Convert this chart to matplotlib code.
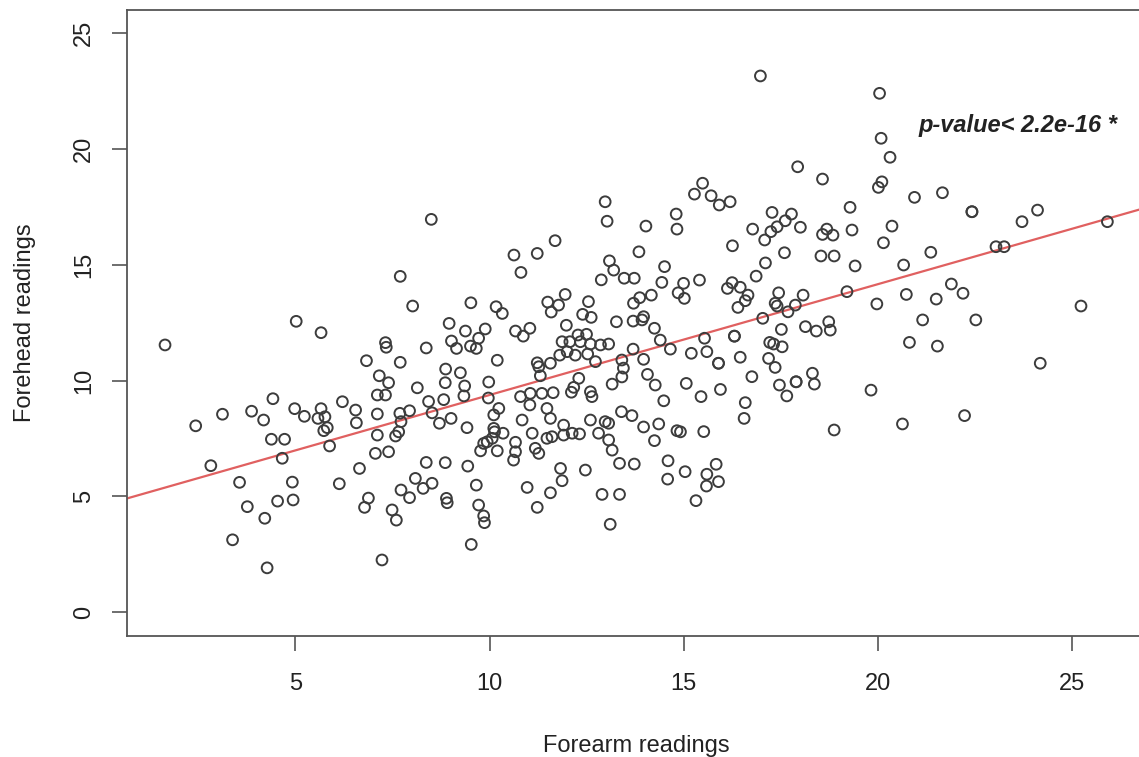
import matplotlib
matplotlib.use("Agg")
import matplotlib.pyplot as plt
import numpy as np

plt.rcParams['font.family'] = ['Liberation Sans', 'DejaVu Sans']

# readings (forearm, forehead)
forearm = [
    1.64, 5.02, 5.66, 6.83, 4.42, 3.12, 2.43, 3.87, 4.18, 4.98, 5.23, 5.66, 5.58, 5.76,
    5.82, 5.73, 6.21, 6.55, 6.57, 4.38, 4.72, 5.88, 4.66, 2.82, 6.65, 3.56, 4.92, 6.13,
    3.76, 4.54, 4.94, 6.88, 6.78, 4.21, 3.38, 4.27,
    8.50, 7.70, 8.02, 9.52, 10.17, 10.33, 10.63, 11.23, 11.69, 10.81, 12.98, 13.03, 13.09,
    13.20, 12.88, 8.96, 9.38, 9.89, 9.72, 9.02, 9.15, 9.51, 9.66, 7.32, 7.34, 8.37, 7.70,
    10.20, 7.16, 7.40, 8.14, 8.87, 9.25, 8.86, 9.36, 9.98, 7.11, 7.32, 8.43, 8.82, 9.34,
    9.97, 10.67, 11.04, 10.87, 11.50, 11.78, 11.95, 11.59, 12.55, 12.40, 12.62, 11.98,
    13.27, 11.87, 12.07, 12.28, 12.50, 12.34, 12.60, 12.86, 13.07, 12.00, 11.81, 12.21,
    12.53, 12.73, 11.23, 11.27, 11.57, 11.31, 12.30, 12.17, 12.11, 13.16, 11.05, 11.35,
    11.64, 12.60, 12.64,
    7.69, 7.94, 7.72, 8.52, 8.71, 9.01, 9.42, 7.58, 7.66, 7.40, 8.37, 8.86, 9.44, 8.09,
    8.29, 8.52, 7.72, 7.94, 8.89, 8.91, 7.49, 7.60, 9.66, 9.72, 9.85, 9.87, 9.53, 7.23,
    7.11, 7.11, 7.06, 10.24, 10.11, 10.11, 10.13, 10.35, 9.94, 10.07, 9.85, 9.77, 10.20,
    10.67, 10.67, 10.62, 10.80, 11.04, 10.84, 11.10, 11.48, 11.57, 11.18, 11.27, 11.48,
    11.61, 11.91, 11.91, 12.13, 12.32, 12.60, 12.81, 12.98, 13.07, 13.07, 13.16, 13.40,
    13.35, 11.83, 11.87, 10.97, 11.57, 11.23, 12.47, 12.90, 13.35, 13.11,
    16.98, 17.94, 18.58, 19.29, 19.34, 15.49, 15.28, 15.71, 15.92, 16.20, 14.81, 14.83,
    14.03, 13.85, 16.26, 17.28, 17.78, 17.62, 17.41, 17.25, 17.09, 16.78, 18.01, 18.69,
    18.58, 18.85, 17.60, 18.54, 18.88, 17.11,
    19.42, 13.47, 13.73, 14.51, 14.44, 15.00, 14.86, 15.02, 15.41, 14.17, 13.87, 13.71,
    13.97, 13.93, 13.70, 14.25, 14.40, 14.66, 13.70, 13.97, 13.41, 13.45, 13.41, 14.07,
    14.27, 15.07, 14.49, 15.45, 15.95, 15.20, 15.60, 15.54, 15.90, 15.90, 16.31, 16.31,
    16.46, 16.76, 16.59, 16.56, 13.67, 14.36, 13.97, 15.52, 16.25, 16.13, 16.46, 16.66,
    16.59, 16.40, 16.87, 17.45, 17.36, 17.41, 17.69, 17.88, 18.08, 17.04, 17.52, 17.22,
    17.32, 17.54, 17.19, 17.36, 17.47, 17.66, 17.90, 17.90, 18.32, 18.37, 18.14, 18.42,
    18.74, 18.78, 19.21,
    14.83, 14.92, 18.88, 14.25, 13.73, 14.60, 14.59, 15.04, 15.84, 15.60, 15.90, 15.59,
    15.32,
    20.05, 20.09, 20.32, 20.11, 20.02, 20.95, 21.67, 20.37, 20.15, 21.37, 22.43, 22.43,
    23.72, 24.12, 23.05, 23.26, 25.92,
    20.67, 19.98, 20.74, 21.51, 21.90, 22.20, 21.16, 22.53, 20.82, 21.54, 25.24, 24.19,
    19.83, 20.64, 22.24,
]
forehead = [
    11.54, 12.56, 12.07, 10.86, 9.22, 8.55, 8.05, 8.68, 8.30, 8.79, 8.46, 8.79, 8.37, 8.44,
    7.97, 7.84, 9.09, 8.73, 8.18, 7.47, 7.47, 7.18, 6.65, 6.33, 6.21, 5.61, 5.62, 5.55,
    4.56, 4.80, 4.85, 4.93, 4.53, 4.06, 3.13, 1.92,
    16.96, 14.50, 13.22, 13.36, 13.19, 12.90, 15.42, 15.49, 16.04, 14.67, 17.72, 16.88, 15.17,
    14.77, 14.35, 12.47, 12.14, 12.23, 11.83, 11.71, 11.39, 11.49, 11.39, 11.64, 11.44, 11.41, 10.79,
    10.88, 10.21, 9.91, 9.69, 10.50, 10.34, 9.91, 9.77, 9.94, 9.38, 9.38, 9.10, 9.18, 9.34,
    9.25, 12.14, 12.26, 11.92, 13.39, 13.26, 13.72, 12.96, 13.41, 12.86, 12.73, 12.39,
    12.54, 11.68, 11.68, 11.97, 12.00, 11.68, 11.58, 11.54, 11.58, 11.25, 11.10, 11.10,
    11.15, 10.82, 10.77, 10.60, 10.75, 10.21, 10.10, 9.71, 9.50, 9.85, 9.45, 9.45,
    9.48, 9.52, 9.31,
    8.59, 8.70, 8.23, 8.61, 8.16, 8.37, 7.97, 7.61, 7.79, 6.93, 6.47, 6.46, 6.31, 5.78,
    5.35, 5.57, 5.28, 4.95, 4.92, 4.73, 4.42, 3.98, 5.49, 4.63, 4.16, 3.87, 2.93, 2.26,
    8.56, 7.65, 6.86, 8.80, 8.52, 7.94, 7.79, 7.73, 7.36, 7.51, 7.29, 6.97, 6.97,
    7.34, 6.93, 6.57, 9.31, 8.95, 8.30, 7.73, 8.80, 8.37, 7.08, 6.86, 7.51,
    7.58, 8.08, 7.65, 7.73, 7.70, 8.30, 7.73, 8.23, 8.16, 7.44, 7.00, 8.66,
    6.43, 6.21, 5.68, 5.39, 5.16, 4.53, 6.14, 5.09, 5.09, 3.80,
    23.15, 19.23, 18.70, 17.48, 16.50, 18.52, 18.05, 17.98, 17.58, 17.72, 17.19, 16.54,
    16.67, 15.56, 15.82, 17.26, 17.19, 16.90, 16.64, 16.43, 16.07, 16.54, 16.62, 16.54,
    16.31, 16.28, 15.52, 15.38, 15.38, 15.08,
    14.95, 14.42, 14.42, 14.92, 14.24, 14.20, 13.79, 13.55, 14.34, 13.69, 13.58, 13.34,
    12.76, 12.62, 12.57, 12.26, 11.75, 11.36, 11.36, 10.92, 10.89, 10.54, 10.16, 10.27,
    9.81, 9.88, 9.13, 9.31, 9.62, 11.18, 11.25, 11.83, 10.75, 10.75, 11.92, 11.92,
    11.01, 10.17, 9.05, 8.37, 8.49, 8.13, 8.00, 7.80, 14.23, 13.98, 14.03, 13.69,
    13.45, 13.16, 14.51, 13.79, 13.34, 13.22, 12.97, 13.26, 13.69, 12.69, 12.21, 11.65,
    11.58, 11.46, 10.96, 10.57, 9.81, 9.34, 9.95, 9.95, 10.32, 9.85, 12.33, 12.14,
    12.54, 12.18, 13.84,
    7.84, 7.79, 7.87, 7.41, 6.40, 6.54, 5.75, 6.07, 6.39, 5.96, 5.64, 5.45,
    4.82,
    22.40, 20.46, 19.64, 18.58, 18.34, 17.91, 18.11, 16.67, 15.95, 15.54, 17.29, 17.29,
    16.86, 17.36, 15.78, 15.78, 16.86,
    14.99, 13.31, 13.72, 13.52, 14.17, 13.77, 12.62, 12.62, 11.65, 11.49, 13.22, 10.75,
    9.59, 8.13, 8.49,
]

# fitted regression line (lm coefficients)
fit_intercept = 4.60
fit_slope = 0.478

x_ticks = [5, 10, 15, 20, 25]
y_ticks = [0, 5, 10, 15, 20, 25]
annotation = "p-value< 2.2e-16 *"

fig = plt.figure(figsize=(11.39, 7.57), dpi=100)
ax = fig.add_axes([0.1115, 0.1605, 0.8938, 0.8264])

ax.scatter(forearm, forehead, s=60, facecolors='none', edgecolors='#3c3c3c',
           linewidths=1.4, zorder=3)

xl = np.array([0.66, 26.89])
ax.plot(xl, fit_intercept + fit_slope * xl, color='#e06060', lw=1.6, zorder=2)

ax.text(21.05, 21.0, annotation, fontsize=17, fontweight='bold', fontstyle='italic',
        ha='left', va='center', color='#222222')

ax.set_xlim(0.66, 26.89)
ax.set_ylim(-1, 26)
ax.set_xticks(x_ticks)
ax.set_yticks(y_ticks)

ax.tick_params(axis='both', direction='out', length=11, width=1.2, color='#555555',
               labelsize=17, labelcolor='#222222')
ax.tick_params(axis='x', pad=16)
ax.tick_params(axis='y', pad=12, labelrotation=90)
for lab in ax.get_yticklabels():
    lab.set_va('center')

for sp in ax.spines.values():
    sp.set_color('#555555')
    sp.set_linewidth(1.3)

ax.set_xlabel('Forearm readings', fontsize=17, color='#222222', labelpad=29)
ax.set_ylabel('Forehead readings', fontsize=17, color='#222222', labelpad=27)

fig.savefig('out.png', dpi=100)
